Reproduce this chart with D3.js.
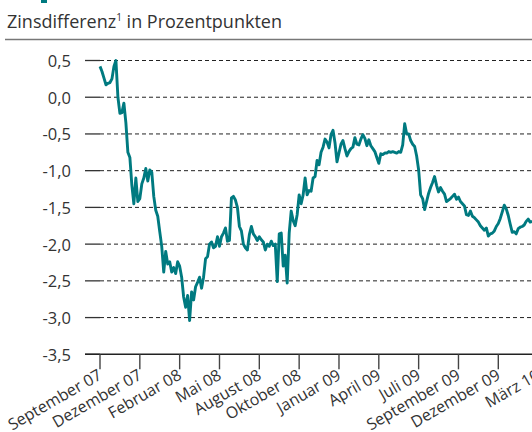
<!DOCTYPE html>
<html>
<head>
<meta charset="utf-8">
<script src="https://cdn.jsdelivr.net/npm/d3@7"></script>
<style>
  html, body { margin: 0; padding: 0; background: #fff; }
  svg { display: block; }
  text { font-family: "Open Sans", sans-serif; fill: #333; }
</style>
</head>
<body>
<svg id="chart" width="532" height="432"></svg>
<script>
const titleText = "Zinsdifferenz";
const titleSup = "1";
const titleRest = " in Prozentpunkten";

const yTicks = [0.5, 0.0, -0.5, -1.0, -1.5, -2.0, -2.5, -3.0, -3.5];

const categories = ["September 07", "Dezember 07", "Februar 08", "Mai 08", "August 08",
  "Oktober 08", "Januar 09", "April 09", "Juli 09", "September 09", "Dezember 09", "März 10"];
const pointsPerLabel = 20;

const values = [
  0.42,0.35,0.26,0.17,0.19,0.20,0.25,0.42,0.50,0.00,
  -0.22,-0.21,-0.08,-0.35,-0.75,-0.82,-1.20,-1.45,-1.10,-1.42,
  -1.38,-1.18,-1.10,-0.97,-1.14,-0.99,-1.02,-1.35,-1.54,-1.62,
  -1.83,-2.03,-2.38,-2.10,-2.27,-2.24,-2.38,-2.32,-2.40,-2.24,
  -2.30,-2.45,-2.72,-2.86,-2.70,-3.04,-2.65,-2.76,-2.58,-2.52,
  -2.45,-2.60,-2.45,-2.20,-2.17,-2.00,-1.97,-2.05,-2.03,-1.90,
  -2.03,-1.90,-1.85,-1.78,-1.96,-1.95,-1.37,-1.35,-1.40,-1.50,
  -1.76,-1.82,-2.00,-2.05,-2.08,-1.87,-1.76,-1.86,-1.90,-1.95,
  -1.90,-1.94,-1.97,-2.08,-2.00,-2.03,-1.96,-2.02,-2.00,-2.51,
  -1.86,-1.85,-2.30,-2.15,-2.53,-1.85,-1.55,-1.68,-1.75,-1.60,
  -1.33,-1.45,-1.33,-1.10,-1.33,-1.27,-1.28,-1.10,-1.08,-0.86,
  -0.92,-0.75,-0.68,-0.57,-0.61,-0.69,-0.51,-0.45,-0.62,-0.88,
  -0.76,-0.64,-0.59,-0.70,-0.80,-0.74,-0.70,-0.68,-0.55,-0.64,
  -0.65,-0.57,-0.51,-0.56,-0.66,-0.58,-0.66,-0.70,-0.74,-0.82,
  -0.90,-0.77,-0.78,-0.76,-0.76,-0.74,-0.75,-0.74,-0.75,-0.76,
  -0.74,-0.75,-0.65,-0.36,-0.50,-0.50,-0.59,-0.64,-0.67,-0.80,
  -0.99,-1.33,-1.38,-1.53,-1.42,-1.31,-1.23,-1.16,-1.08,-1.20,
  -1.29,-1.23,-1.28,-1.32,-1.42,-1.40,-1.38,-1.35,-1.32,-1.39,
  -1.36,-1.42,-1.45,-1.48,-1.60,-1.61,-1.55,-1.62,-1.64,-1.67,
  -1.70,-1.75,-1.78,-1.81,-1.78,-1.89,-1.86,-1.85,-1.82,-1.76,
  -1.72,-1.65,-1.56,-1.47,-1.52,-1.61,-1.73,-1.84,-1.83,-1.86,
  -1.79,-1.77,-1.76,-1.74,-1.69,-1.66,-1.70,-1.69
];

const W = 532, H = 432;
const teal = "#007a80";
const svg = d3.select("#chart");

// top accent (cut-off marker)
svg.append("rect").attr("x", 41).attr("y", 0).attr("width", 6).attr("height", 3).attr("fill", teal);

// title
const t = svg.append("text").attr("x", 7).attr("y", 28).style("font-size", "18px");
t.append("tspan").text(titleText);
t.append("tspan").attr("dy", -7).style("font-size", "10px").text(titleSup);
t.append("tspan").attr("dy", 7).text(titleRest);

svg.append("line").attr("x1", 5).attr("x2", W).attr("y1", 39.5).attr("y2", 39.5)
  .attr("stroke", "#777").attr("stroke-width", 1.6);

const nTicks = categories.length;
const x = d3.scaleLinear().domain([0, (nTicks - 1) * pointsPerLabel]).range([100, 100 + 39.83 * (nTicks - 1)]);
const y = d3.scaleLinear().domain([-3.5, 0.5]).range([354.3, 60.5]);

// gridlines
const g = svg.append("g");
yTicks.forEach(v => {
  if (v > -3.5) {
    g.append("line").attr("x1", 100).attr("x2", W).attr("y1", y(v)).attr("y2", y(v))
      .attr("stroke", "#222").attr("stroke-width", 1).attr("stroke-dasharray", "4,3");
  }
  g.append("line").attr("x1", 85).attr("x2", 100).attr("y1", y(v)).attr("y2", y(v))
    .attr("stroke", "#333").attr("stroke-width", 1.3);
  g.append("text").attr("x", 71).attr("y", y(v)).attr("text-anchor", "end")
    .attr("dominant-baseline", "central").style("font-size", "16.5px")
    .text(d3.format(".1f")(v).replace(".", ",").replace("−", "-"));
});

// bottom axis
svg.append("line").attr("x1", 85).attr("x2", W).attr("y1", y(-3.5)).attr("y2", y(-3.5))
  .attr("stroke", "#222").attr("stroke-width", 1.4);

const xt = svg.append("g");
categories.forEach((c, k) => {
  const px = x(k * pointsPerLabel);
  xt.append("line").attr("x1", px).attr("x2", px).attr("y1", y(-3.5)).attr("y2", y(-3.5) + 15)
    .attr("stroke", "#444").attr("stroke-width", 1.4);
  xt.append("text").attr("transform", `translate(${px + 3},${y(-3.5) + 24}) rotate(-30)`)
    .attr("text-anchor", "end").style("font-size", "16px").text(c);
});

// line
const line = d3.line().x((d, i) => x(i)).y(d => y(d)).curve(d3.curveLinear);
svg.append("path").datum(values).attr("d", line).attr("fill", "none")
  .attr("stroke", teal).attr("stroke-width", 2.9).attr("stroke-linejoin", "round");
</script>
</body>
</html>
